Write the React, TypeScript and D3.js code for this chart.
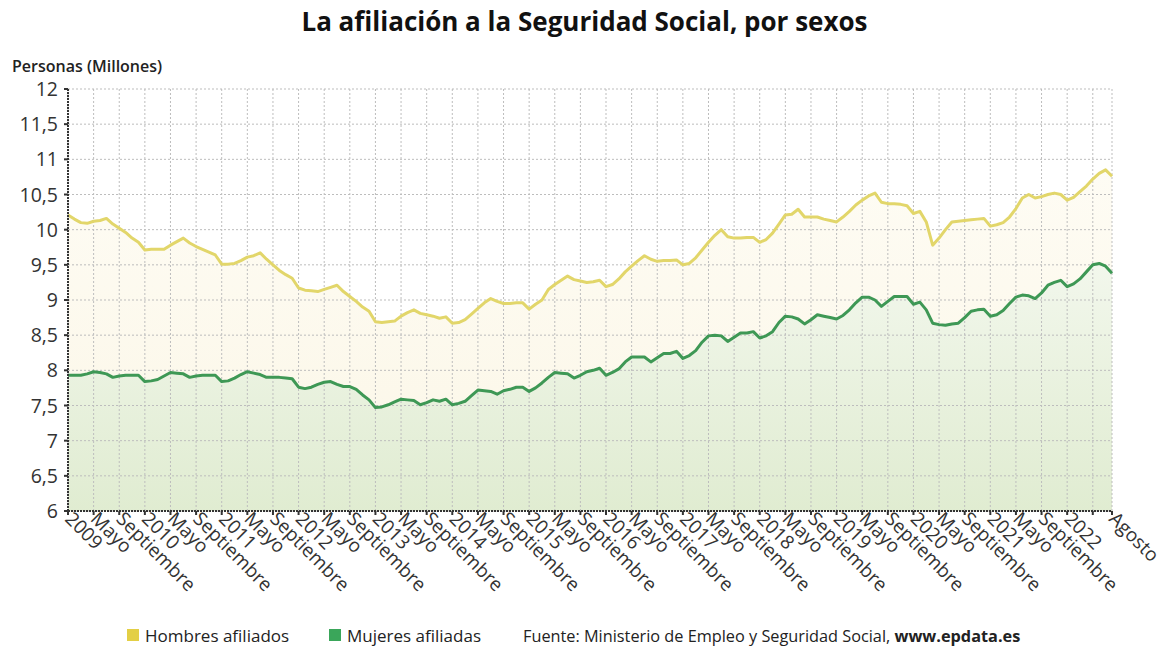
import React from "react";
import * as d3 from "d3";

const hombres: number[] = [
  // 2009
  10.21, 10.15, 10.1, 10.09, 10.12, 10.13, 10.16, 10.08, 10.02, 9.96, 9.88, 9.82,
  // 2010
  9.71, 9.72, 9.72, 9.72, 9.78, 9.83, 9.88, 9.81, 9.76, 9.72, 9.68, 9.64,
  // 2011
  9.51, 9.51, 9.52, 9.56, 9.61, 9.63, 9.67, 9.58, 9.5, 9.42, 9.36, 9.31,
  // 2012
  9.17, 9.14, 9.13, 9.12, 9.15, 9.18, 9.21, 9.12, 9.05, 8.98, 8.9, 8.84,
  // 2013
  8.69, 8.68, 8.69, 8.7, 8.77, 8.82, 8.86, 8.81, 8.79, 8.77, 8.74, 8.76,
  // 2014
  8.67, 8.68, 8.72, 8.8, 8.88, 8.96, 9.02, 8.98, 8.95, 8.95, 8.96, 8.96,
  // 2015
  8.87, 8.94, 9.0, 9.15, 9.22, 9.28, 9.34, 9.29, 9.27, 9.25, 9.26, 9.28,
  // 2016
  9.19, 9.22, 9.3, 9.4, 9.48, 9.56, 9.63, 9.58, 9.55, 9.56, 9.56, 9.57,
  // 2017
  9.5, 9.52, 9.6, 9.71, 9.82, 9.92, 10.0, 9.9, 9.88, 9.88, 9.89, 9.89,
  // 2018
  9.82, 9.86, 9.95, 10.08, 10.21, 10.22, 10.29, 10.18, 10.18, 10.18, 10.15, 10.13,
  // 2019
  10.11, 10.18, 10.26, 10.35, 10.42, 10.48, 10.52, 10.39, 10.37, 10.37, 10.36, 10.34,
  // 2020
  10.23, 10.26, 10.11, 9.78, 9.88, 10.0, 10.11, 10.12, 10.13, 10.14, 10.15, 10.16,
  // 2021
  10.05, 10.07, 10.1, 10.18, 10.3, 10.45, 10.5, 10.45, 10.47, 10.5, 10.52, 10.5,
  // 2022
  10.42, 10.46, 10.54, 10.62, 10.72, 10.8, 10.85, 10.76,
];

const mujeres: number[] = [
  // 2009
  7.93, 7.93, 7.93, 7.95, 7.98, 7.97, 7.95, 7.9, 7.92, 7.93, 7.93, 7.93,
  // 2010
  7.84, 7.85, 7.87, 7.92, 7.97, 7.96, 7.95, 7.9, 7.92, 7.93, 7.93, 7.93,
  // 2011
  7.84, 7.85, 7.89, 7.94, 7.98, 7.96, 7.94, 7.9, 7.9, 7.9, 7.89, 7.88,
  // 2012
  7.76, 7.74, 7.76, 7.8, 7.83, 7.84, 7.8, 7.77, 7.77, 7.73, 7.65, 7.58,
  // 2013
  7.47, 7.48, 7.51, 7.55, 7.59, 7.58, 7.57, 7.51, 7.54, 7.58, 7.56, 7.59,
  // 2014
  7.51, 7.53, 7.56, 7.64, 7.72, 7.71, 7.7, 7.66, 7.71, 7.73, 7.76, 7.76,
  // 2015
  7.7, 7.75, 7.82, 7.9, 7.97, 7.96, 7.95, 7.89, 7.93, 7.98, 8.0, 8.03,
  // 2016
  7.93, 7.97, 8.02, 8.12, 8.19, 8.19, 8.19, 8.12, 8.18, 8.24, 8.24, 8.27,
  // 2017
  8.17, 8.21, 8.28, 8.4, 8.49, 8.5, 8.49, 8.41, 8.47, 8.53, 8.53, 8.55,
  // 2018
  8.46, 8.49, 8.55, 8.68, 8.77, 8.76, 8.73, 8.66, 8.72, 8.79, 8.77, 8.75,
  // 2019
  8.73, 8.78, 8.86, 8.96, 9.04, 9.04, 9.0, 8.91, 8.98, 9.05, 9.05, 9.05,
  // 2020
  8.94, 8.97, 8.86, 8.67, 8.65, 8.64, 8.66, 8.67, 8.75, 8.84, 8.86, 8.87,
  // 2021
  8.77, 8.79, 8.85, 8.95, 9.04, 9.07, 9.06, 9.02, 9.1, 9.21, 9.25, 9.28,
  // 2022
  9.19, 9.23, 9.3, 9.4, 9.5, 9.52, 9.48, 9.38,
];

const startYear = 2009;
const monthNames: string[] = ["", "", "", "", "Mayo", "", "", "Agosto", "Septiembre"];
const yTicks: number[] = [6, 6.5, 7, 7.5, 8, 8.5, 9, 9.5, 10, 10.5, 11, 11.5, 12];

const title = "La afiliación a la Seguridad Social, por sexos";
const yTitle = "Personas (Millones)";
const legendItems = [
  { label: "Hombres afiliados", color: "#e3cf45" },
  { label: "Mujeres afiliadas", color: "#3aa65a" },
];
const source = "Fuente: Ministerio de Empleo y Seguridad Social, ";
const sourceBold = "www.epdata.es";

const FONT = "'Open Sans', 'Noto Sans', sans-serif";

export default function App() {
  const W = 1165;
  const H = 653;
  const left = 68;
  const right = 1112;
  const top = 89;
  const bottom = 511;
  const n = hombres.length;
  const x = d3.scaleLinear().domain([0, n - 1]).range([left, right]);
  const y = d3.scaleLinear().domain([6, 12]).range([bottom, top]);

  const line = d3
    .line<number>()
    .x((_, i) => x(i))
    .y((d) => y(d));
  const area = d3
    .area<number>()
    .x((_, i) => x(i))
    .y0(bottom)
    .y1((d) => y(d));

  const xTickIdx: number[] = [];
  for (let i = 0; i < n; i += 4) xTickIdx.push(i);
  if (xTickIdx[xTickIdx.length - 1] !== n - 1) xTickIdx.push(n - 1);

  const labelFor = (i: number) => {
    const m = i % 12;
    if (i === n - 1) return monthNames[7];
    if (n - 1 - i < 4) return "";
    if (m === 0) return String(startYear + Math.floor(i / 12));
    return monthNames[m];
  };

  return (
    <svg width={W} height={H} style={{ display: "block", position: "absolute", left: 0, top: 0 }} fontFamily={FONT}>
      <defs>
        <linearGradient id="gH" x1="0" y1="0" x2="0" y2="1">
          <stop offset="0" stopColor="#fefcf4" />
          <stop offset="1" stopColor="#fbf6e6" />
        </linearGradient>
        <linearGradient id="gM" x1="0" y1="0" x2="0" y2="1">
          <stop offset="0" stopColor="#f2f7ec" />
          <stop offset="1" stopColor="#e0ecd1" />
        </linearGradient>
      </defs>
      <rect width={W} height={H} fill="#fff" />
      <text x={W / 2 + 2} y={31} textAnchor="middle" fontSize={26} fontWeight={700} fill="#111">
        {title}
      </text>
      <text x={12} y={72} fontSize={16} fontWeight={600} fill="#222">
        {yTitle}
      </text>

      {/* areas */}
      <path d={area(hombres) || ""} fill="url(#gH)" />
      <path d={area(mujeres) || ""} fill="url(#gM)" />

      {/* grid */}
      {yTicks.map((t) => (
        <line key={"gy" + t} x1={left} x2={right} y1={y(t)} y2={y(t)} stroke="#bdbdbd" strokeWidth={1} strokeDasharray="2,2" />
      ))}
      {xTickIdx.map((i) => (
        <line key={"gx" + i} x1={x(i)} x2={x(i)} y1={top} y2={bottom} stroke="#bdbdbd" strokeWidth={1} strokeDasharray="2,2" />
      ))}

      {/* lines */}
      <path d={line(hombres) || ""} fill="none" stroke="#e2d66a" strokeWidth={3} strokeLinejoin="round" />
      <path d={line(mujeres) || ""} fill="none" stroke="#3e9855" strokeWidth={3} strokeLinejoin="round" />

      {/* axes */}
      <line x1={left} x2={left} y1={top} y2={bottom} stroke="#333" strokeWidth={2} strokeDasharray="2,1" />
      <line x1={left} x2={right} y1={bottom} y2={bottom} stroke="#333" strokeWidth={2} strokeDasharray="2,1" />
      {yTicks.map((t) => (
        <g key={"yt" + t}>
          <line x1={left - 4} x2={left} y1={y(t)} y2={y(t)} stroke="#333" strokeWidth={2} />
          <text x={58} y={y(t) + 7} textAnchor="end" fontSize={19.5} fill="#333">
            {String(t).replace(".", ",")}
          </text>
        </g>
      ))}
      {xTickIdx.map((i) => (
        <g key={"xt" + i}>
          <line x1={x(i)} x2={x(i)} y1={bottom} y2={bottom + 4} stroke="#333" strokeWidth={2} />
          <text
            transform={`translate(${x(i) - 4},${bottom + 9}) rotate(45)`}
            fontSize={19}
            fill="#333"
          >
            {labelFor(i)}
          </text>
        </g>
      ))}

      {/* legend */}
      <rect x={127} y={629} width={12} height={12} fill={legendItems[0].color} />
      <text x={145} y={642} fontSize={17} fill="#222">{legendItems[0].label}</text>
      <rect x={329} y={629} width={12} height={12} fill={legendItems[1].color} />
      <text x={347} y={642} fontSize={17} fill="#222">{legendItems[1].label}</text>
      <text x={523} y={642} fontSize={16.3} fill="#222">
        {source}
        <tspan fontWeight={700}>{sourceBold}</tspan>
      </text>
    </svg>
  );
}
